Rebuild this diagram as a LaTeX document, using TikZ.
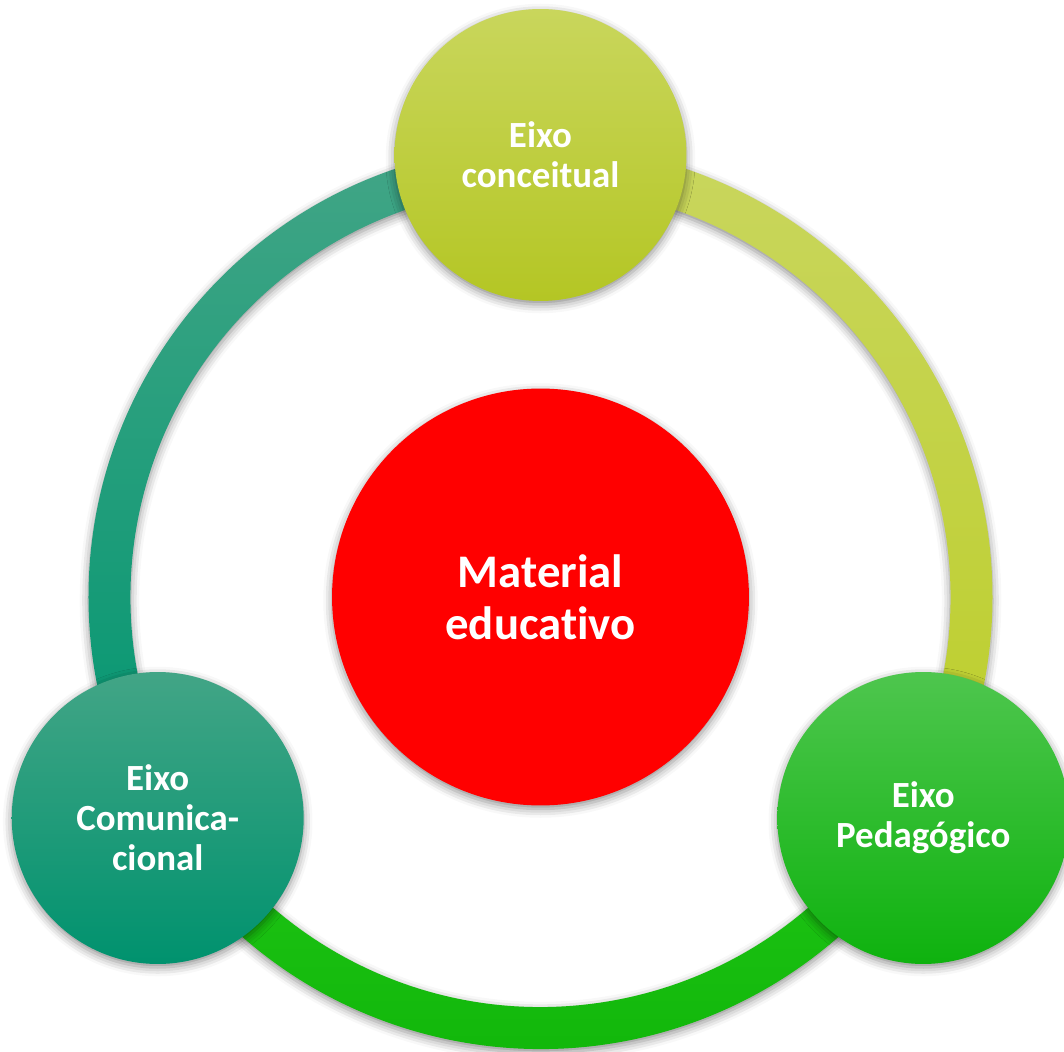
\documentclass[tikz,border=0pt]{standalone}
\usepackage{fontspec}
\setmainfont{Carlito}[Ligatures={NoCommon}]
\usetikzlibrary{shadows.blur}
\definecolor{ctopA}{RGB}{201,214,92}
\definecolor{ctopB}{RGB}{195,213,48}
\definecolor{ctopC}{RGB}{180,198,36}
\definecolor{cleftA}{RGB}{66,165,134}
\definecolor{cleftB}{RGB}{0,146,110}
\definecolor{crightA}{RGB}{78,198,78}
\definecolor{crightB}{RGB}{14,178,14}
\definecolor{arcTRa}{RGB}{201,214,94}
\definecolor{arcTRb}{RGB}{188,206,40}
\definecolor{arcLa}{RGB}{66,165,134}
\definecolor{arcLb}{RGB}{0,150,112}
\definecolor{arcBa}{RGB}{32,198,22}
\definecolor{arcBb}{RGB}{14,180,8}
\tikzset{
  shad/.style={blur shadow={shadow xshift=0pt, shadow yshift=-2pt, shadow blur radius=5pt, shadow opacity=45}},
  sat/.style={circle, inner sep=0pt, minimum size=5.84cm, shad, text=white,
    font=\bfseries\fontsize{21}{22.7}\selectfont, align=center},
  hub/.style={circle, inner sep=0pt, minimum size=8.34cm, fill=red, shad, text=white,
    font=\bfseries\fontsize{26.6}{29.5}\selectfont, align=center},
}
\begin{document}
\begin{tikzpicture}[x=0.02cm,y=0.02cm]
\useasboundingbox (-540.5,-454) rectangle (523.5,597);
% ring segments
\shade[top color=arcTRa, bottom color=arcTRb, shad]
  (90:452) arc[start angle=90, end angle=-30, radius=452]
  -- (-30:410) arc[start angle=-30, end angle=90, radius=410] -- cycle;
\shade[top color=arcLa, bottom color=arcLb, shad]
  (90:452) arc[start angle=90, end angle=210, radius=452]
  -- (210:410) arc[start angle=210, end angle=90, radius=410] -- cycle;
\shade[top color=arcBa, bottom color=arcBb, shad]
  (210:452) arc[start angle=210, end angle=330, radius=452]
  -- (330:410) arc[start angle=330, end angle=210, radius=410] -- cycle;
% nodes
\node[hub] (mat) at (0,0) {Material\\educativo};
\node[sat, top color=ctopA, middle color=ctopB, bottom color=ctopC] (conc) at (90:442) {Eixo\\conceitual};
\node[sat, top color=cleftA, bottom color=cleftB] (com) at (210:442) {Eixo\\Comunica-\\cional};
\node[sat, top color=crightA, bottom color=crightB] (ped) at (330:442) {Eixo\\Pedagógico};
\end{tikzpicture}
\end{document}
